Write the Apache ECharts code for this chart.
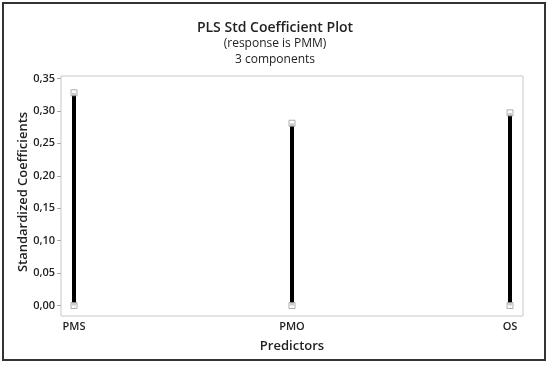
<!DOCTYPE html>
<html><head><meta charset="utf-8">
<script src="https://cdn.jsdelivr.net/npm/echarts@6/dist/echarts.min.js"></script>
<style>html,body{margin:0;padding:0;background:#fff}#c{width:550px;height:365px}</style>
</head><body><div id="c"></div>
<script>
const categories = ['PMS', 'PMO', 'OS'];
const coefficients = [0.328, 0.281, 0.297];
const baseline = [0, 0, 0];
const yTicks = [0, 0.05, 0.10, 0.15, 0.20, 0.25, 0.30, 0.35];

const FONT = '"Open Sans", "Noto Sans", sans-serif';
const chart = echarts.init(document.getElementById('c'), null, {renderer: 'canvas'});
chart.setOption({
  animation: false,
  backgroundColor: '#fff',
  title: [
    {text: 'PLS Std Coefficient Plot', left: 'center', top: 16,
     textStyle: {fontFamily: FONT, fontSize: 14, fontWeight: 600, color: '#222'}},
    {text: '(response is PMM)\n3 components', left: 'center', top: 31,
     textStyle: {fontFamily: FONT, fontSize: 12, fontWeight: 'normal', color: '#222', lineHeight: 16}}
  ],
  graphic: [
    {type: 'rect', shape: {x: 3, y: 3, width: 542, height: 357},
     style: {fill: 'none', stroke: '#333', lineWidth: 2}, silent: true},
    {type: 'rect', shape: {x: 61, y: 76, width: 462, height: 240},
     style: {fill: 'none', stroke: '#c8c8c8', lineWidth: 1}, silent: true}
  ],
  grid: {left: 74, right: 40, top: 78.5, bottom: 59.5, containLabel: false},
  xAxis: {
    type: 'category', data: categories, boundaryGap: false, offset: 10.5,
    axisLine: {show: false},
    axisTick: {show: true, length: 3, lineStyle: {color: '#aaa'}},
    axisLabel: {margin: 5, fontFamily: FONT, fontSize: 11, fontWeight: 600, color: '#222'},
    name: 'Predictors', nameLocation: 'middle', nameGap: 24, nameMoveOverlap: false,
    nameTextStyle: {fontFamily: FONT, fontSize: 13, fontWeight: 600, color: '#222'},
    splitLine: {show: false}
  },
  yAxis: {
    type: 'value', min: yTicks[0], max: yTicks[yTicks.length - 1], interval: 0.05, offset: 13,
    axisLine: {show: false},
    axisTick: {show: true, length: 4, lineStyle: {color: '#aaa'}},
    axisLabel: {margin: 6, fontFamily: FONT, fontSize: 11, fontWeight: 600, color: '#222',
      formatter: v => v.toFixed(2).replace('.', ',')},
    splitLine: {show: false},
    name: 'Standardized Coefficients', nameLocation: 'middle', nameGap: 31, nameMoveOverlap: false,
    nameTextStyle: {fontFamily: FONT, fontSize: 13, fontWeight: 600, color: '#222'}
  },
  series: [
    {type: 'bar', data: coefficients, barWidth: 4, itemStyle: {color: '#000'}, z: 2},
    {type: 'scatter', data: coefficients, symbol: 'rect', symbolSize: 6,
     itemStyle: {color: '#fff', borderColor: '#999', borderWidth: 1}, z: 3},
    {type: 'scatter', data: baseline, symbol: 'rect', symbolSize: 6,
     itemStyle: {color: '#fff', borderColor: '#999', borderWidth: 1}, z: 3}
  ]
});
</script>
</body></html>
